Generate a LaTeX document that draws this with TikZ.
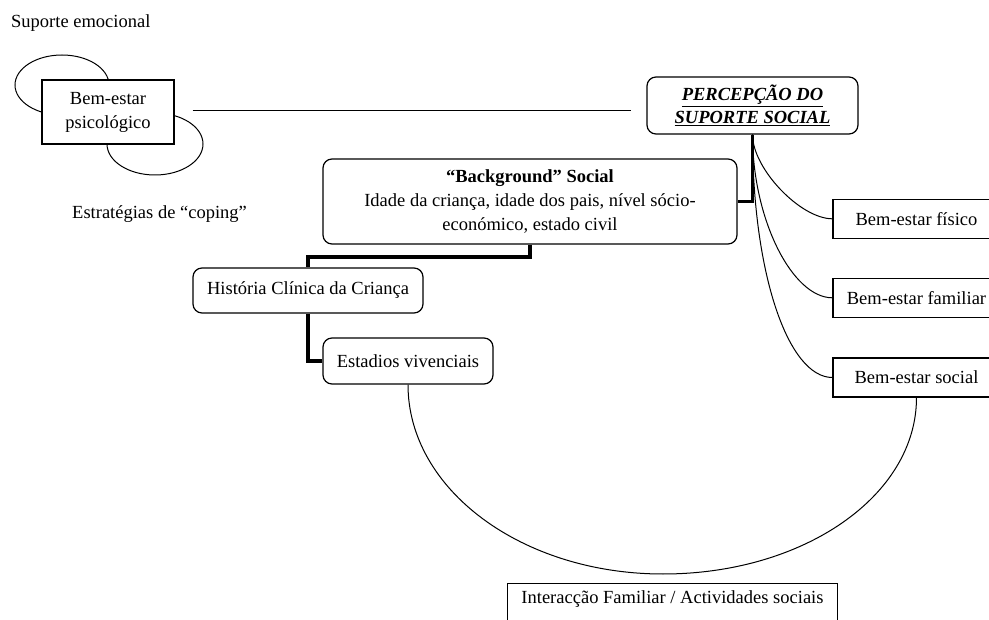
\documentclass[tikz,border=0pt]{standalone}
\usepackage{fontspec}
\setmainfont{Liberation Serif}
\usetikzlibrary{calc}
\begin{document}
\begin{tikzpicture}[x=1pt,y=-1pt,
  txt/.style={font=\fontsize{18.5}{24}\selectfont, inner sep=0pt},
  sqbox/.style={txt, draw, line width=1.2pt, fill=white, align=center},
  rbox/.style={txt, draw, line width=1.2pt, rounded corners=9pt, fill=white, align=center},
  fineline/.style={line width=1pt},
  link/.style={line width=3.8pt}]
\clip (0,0) rectangle (989,620);

% free labels
\node[txt, anchor=west] (sup) at (11,23) {Suporte emocional};
\node[txt, anchor=west] (cop) at (72,214) {Estratégias de “coping”};

% loops around the psychological well-being box
\draw[fineline] (62,85) ellipse [x radius=47, y radius=30];
\draw[fineline] (155,144) ellipse [x radius=48, y radius=31];
\node[sqbox, minimum width=132, minimum height=64] (psi) at (108,112) {Bem-estar\\psicológico};

% main boxes
\node[rbox, minimum width=211, minimum height=57,
      font=\fontsize{18.5}{23}\selectfont\bfseries\itshape] (perc) at (752.5,105.5)
      {\underline{PERCEPÇÃO DO}\\\underline{SUPORTE SOCIAL}};
\node[rbox, minimum width=414, minimum height=85] (bg) at (530,201.5)
      {\textbf{“Background” Social}\\Idade da criança, idade dos pais, nível sócio-\\económico, estado civil};
\node[rbox, minimum width=230, minimum height=45] (hist) at (308,290.5) {História Clínica da Criança};
\node[rbox, minimum width=170, minimum height=46] (est) at (408,361) {Estadios vivenciais};

% well-being boxes on the right
\node[sqbox, minimum width=167, minimum height=39] (fis) at (916.5,218.8) {Bem-estar físico};
\node[sqbox, minimum width=167, minimum height=39] (fam) at (916.5,297.8) {Bem-estar familiar};
\node[sqbox, minimum width=167, minimum height=39] (soc) at (916.5,377.5) {Bem-estar social};

% bottom box (open at the lower edge)
\node[txt, minimum width=329, minimum height=30] (inter) at (672.5,599) {Interacção Familiar / Actividades sociais};
\draw[line width=1.2pt] (inter.north west) rectangle ($(inter.south east)+(0,20)$);

% connectors
\draw[fineline] ($(psi.east)+(18,-1)$) -- ($(psi.east -| perc.west)+(-15,-1)$);
\draw[link] (perc.south) |- (bg.east);
\draw[link] (bg.south) -- ++(0,12.5) -| (hist.north);
\draw[link] (hist.south) |- (est.west);

\draw[fineline] (perc.south) .. controls +(0,34) and +(-32,0) .. (fis.west);
\draw[fineline] (perc.south) .. controls +(0,85) and +(-40,0) .. (fam.west);
\draw[fineline] (perc.south) .. controls +(0,140) and +(-44,0) .. (soc.west);

\coordinate (arcbottom) at (663,574);
\draw[fineline] (est.south) .. controls +(0,105) and +(-141,0) .. (arcbottom)
  .. controls +(141,0) and +(0,98) .. (soc.south);
\end{tikzpicture}
\end{document}
